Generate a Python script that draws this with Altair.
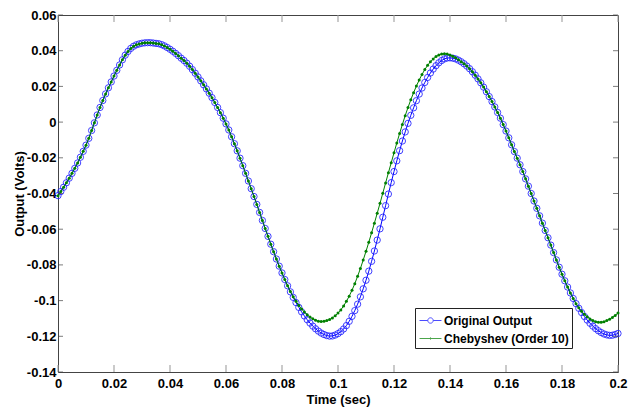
import altair as alt
import pandas as pd

# ---------------- data ----------------
time_s = [round(i * 0.001, 3) for i in range(201)]

original_output = [
    -0.0412, -0.0389, -0.0365, -0.0340, -0.0314, -0.0287, -0.0259, -0.0229, -0.0197, -0.0164,
    -0.0129, -0.0091, -0.0047, -0.0004, 0.0040, 0.0082, 0.0121, 0.0158, 0.0192, 0.0225,
    0.0258, 0.0290, 0.0320, 0.0349, 0.0375, 0.0396, 0.0413, 0.0425, 0.0433, 0.0438,
    0.0442, 0.0444, 0.0445, 0.0445, 0.0443, 0.0441, 0.0439, 0.0434, 0.0427, 0.0418,
    0.0408, 0.0397, 0.0385, 0.0372, 0.0358, 0.0345, 0.0330, 0.0313, 0.0294, 0.0274,
    0.0253, 0.0231, 0.0209, 0.0186, 0.0162, 0.0137, 0.0110, 0.0082, 0.0053, 0.0022,
    -0.0010, -0.0044, -0.0082, -0.0121, -0.0161, -0.0202, -0.0244, -0.0287, -0.0330, -0.0373,
    -0.0417, -0.0461, -0.0506, -0.0551, -0.0596, -0.0640, -0.0684, -0.0726, -0.0767, -0.0807,
    -0.0845, -0.0882, -0.0917, -0.0951, -0.0982, -0.1011, -0.1038, -0.1063, -0.1086, -0.1107,
    -0.1126, -0.1143, -0.1158, -0.1171, -0.1182, -0.1190, -0.1196, -0.1199, -0.1198, -0.1193,
    -0.1185, -0.1174, -0.1159, -0.1140, -0.1116, -0.1088, -0.1056, -0.1020, -0.0979, -0.0934,
    -0.0886, -0.0835, -0.0780, -0.0722, -0.0661, -0.0598, -0.0533, -0.0468, -0.0403, -0.0339,
    -0.0277, -0.0217, -0.0160, -0.0106, -0.0055, -0.0007, 0.0038, 0.0080, 0.0120, 0.0157,
    0.0191, 0.0222, 0.0250, 0.0275, 0.0297, 0.0316, 0.0332, 0.0345, 0.0354, 0.0359,
    0.0360, 0.0358, 0.0354, 0.0347, 0.0338, 0.0327, 0.0314, 0.0299, 0.0282, 0.0263,
    0.0242, 0.0220, 0.0196, 0.0170, 0.0143, 0.0115, 0.0085, 0.0054, 0.0022, -0.0014,
    -0.0050, -0.0088, -0.0127, -0.0165, -0.0202, -0.0239, -0.0277, -0.0318, -0.0359, -0.0400,
    -0.0442, -0.0483, -0.0525, -0.0566, -0.0607, -0.0648, -0.0689, -0.0731, -0.0772, -0.0813,
    -0.0852, -0.0889, -0.0924, -0.0957, -0.0988, -0.1017, -0.1043, -0.1067, -0.1089, -0.1109,
    -0.1127, -0.1143, -0.1157, -0.1169, -0.1179, -0.1187, -0.1192, -0.1195, -0.1194, -0.1190,
    -0.1184,
]

chebyshev_order10 = [
    -0.0412, -0.0389, -0.0365, -0.0340, -0.0314, -0.0287, -0.0259, -0.0229, -0.0197, -0.0164,
    -0.0129, -0.0091, -0.0047, -0.0004, 0.0040, 0.0082, 0.0121, 0.0158, 0.0192, 0.0225,
    0.0258, 0.0290, 0.0320, 0.0349, 0.0375, 0.0396, 0.0413, 0.0425, 0.0433, 0.0438,
    0.0442, 0.0444, 0.0445, 0.0445, 0.0443, 0.0441, 0.0439, 0.0434, 0.0427, 0.0418,
    0.0408, 0.0397, 0.0385, 0.0372, 0.0358, 0.0345, 0.0330, 0.0313, 0.0294, 0.0274,
    0.0253, 0.0231, 0.0209, 0.0186, 0.0162, 0.0137, 0.0110, 0.0082, 0.0053, 0.0022,
    -0.0010, -0.0044, -0.0082, -0.0121, -0.0161, -0.0202, -0.0244, -0.0287, -0.0330, -0.0373,
    -0.0417, -0.0461, -0.0506, -0.0551, -0.0596, -0.0640, -0.0684, -0.0726, -0.0767, -0.0807,
    -0.0845, -0.0882, -0.0917, -0.0949, -0.0978, -0.1004, -0.1027, -0.1047, -0.1064, -0.1079,
    -0.1092, -0.1102, -0.1110, -0.1115, -0.1117, -0.1116, -0.1112, -0.1106, -0.1097, -0.1085,
    -0.1070, -0.1052, -0.1030, -0.1004, -0.0975, -0.0942, -0.0905, -0.0864, -0.0820, -0.0773,
    -0.0724, -0.0673, -0.0620, -0.0566, -0.0511, -0.0455, -0.0398, -0.0341, -0.0284, -0.0228,
    -0.0172, -0.0117, -0.0064, -0.0013, 0.0036, 0.0082, 0.0125, 0.0165, 0.0202, 0.0236,
    0.0267, 0.0294, 0.0318, 0.0338, 0.0354, 0.0367, 0.0376, 0.0381, 0.0383, 0.0381,
    0.0376, 0.0369, 0.0360, 0.0349, 0.0338, 0.0327, 0.0314, 0.0299, 0.0282, 0.0263,
    0.0242, 0.0220, 0.0196, 0.0170, 0.0143, 0.0115, 0.0085, 0.0054, 0.0022, -0.0014,
    -0.0050, -0.0088, -0.0127, -0.0165, -0.0202, -0.0239, -0.0277, -0.0318, -0.0359, -0.0400,
    -0.0442, -0.0483, -0.0525, -0.0566, -0.0607, -0.0648, -0.0689, -0.0731, -0.0772, -0.0813,
    -0.0852, -0.0889, -0.0924, -0.0957, -0.0988, -0.1017, -0.1040, -0.1060, -0.1077, -0.1091,
    -0.1103, -0.1112, -0.1118, -0.1121, -0.1121, -0.1118, -0.1112, -0.1104, -0.1094, -0.1083,
    -0.1070,
]

series_names = ["Original Output", "Chebyshev (Order 10)"]
series_colors = ["#0000ff", "#008000"]
x_tick_values = [0, 0.02, 0.04, 0.06, 0.08, 0.1, 0.12, 0.14, 0.16, 0.18, 0.2]
y_tick_values = [-0.14, -0.12, -0.1, -0.08, -0.06, -0.04, -0.02, 0, 0.02, 0.04, 0.06]

# ---------------- styling ----------------
W, H = 560, 357
FONT = "Liberation Sans Narrow, Arial Narrow, Liberation Sans, Arial, sans-serif"
LABEL_EXPR = "replace(format(datum.value, '~g'), '\u2212', '-')"

orig_df = pd.DataFrame({"t": time_s, "v": original_output})
cheb_df = pd.DataFrame({"t": time_s, "v": chebyshev_order10})
legend_df = pd.DataFrame({"series": series_names})
xt_df = pd.DataFrame({"t": x_tick_values})
yt_df = pd.DataFrame({"v": y_tick_values})

xs = alt.Scale(domain=[0, 0.2], nice=False, zero=False)
ys = alt.Scale(domain=[-0.14, 0.06], nice=False, zero=False)

x_axis = alt.Axis(
    title="Time (sec)", values=x_tick_values, labelExpr=LABEL_EXPR,
    ticks=False, domain=False, grid=False, labelFlush=False, labelOverlap=False,
    labelFont=FONT, labelFontSize=13, labelFontWeight="bold", labelColor="black",
    labelPadding=5, titleFont=FONT, titleFontSize=13, titleFontWeight="bold",
    titleColor="black", titlePadding=3,
)
y_axis = alt.Axis(
    title="Output (Volts)", values=y_tick_values, labelExpr=LABEL_EXPR,
    ticks=False, domain=False, grid=False, labelFlush=False, labelOverlap=False,
    labelFont=FONT, labelFontSize=13, labelFontWeight="bold", labelColor="black",
    labelPadding=2, titleFont=FONT, titleFontSize=13, titleFontWeight="bold",
    titleColor="black", titlePadding=0,
)

X = alt.X("t:Q", scale=xs, axis=x_axis)
Y = alt.Y("v:Q", scale=ys, axis=y_axis)

blue_line = alt.Chart(orig_df).mark_line(color=series_colors[0], strokeWidth=1).encode(x=X, y=Y)
blue_pts = alt.Chart(orig_df).mark_point(
    shape="circle", filled=False, color="#2020ff", strokeWidth=1, size=40, opacity=0.85
).encode(x=X, y=Y)
green_line = alt.Chart(cheb_df).mark_line(color=series_colors[1], strokeWidth=1).encode(x=X, y=Y)
green_pts = alt.Chart(cheb_df).mark_point(
    shape="circle", filled=True, color=series_colors[1], size=9, opacity=1
).encode(x=X, y=Y)

blue_sym = "M-1.22,0L-0.3,0M0.3,0L1.22,0M-0.3,0A0.3,0.3 0 1,1 0.3,0A0.3,0.3 0 1,1 -0.3,0"
green_sym = "M-1.22,0L1.22,0M-0.08,0A0.08,0.08 0 1,1 0.08,0A0.08,0.08 0 1,1 -0.08,0"

legend_layer = alt.Chart(legend_df).mark_point(size=0, filled=False, strokeWidth=1).encode(
    color=alt.Color(
        "series:N",
        scale=alt.Scale(domain=series_names, range=series_colors),
        legend=alt.Legend(
            title=None, orient="none", legendX=357, legendY=293, direction="vertical",
            strokeColor="#222222", fillColor="white", padding=3, cornerRadius=0,
            symbolSize=324, symbolStrokeWidth=1, symbolOffset=3, rowPadding=2,
            labelOffset=4, labelFont=FONT, labelFontSize=12, labelFontWeight="bold",
            labelColor="black", labelLimit=300,
        ),
    ),
    shape=alt.Shape(
        "series:N",
        scale=alt.Scale(domain=series_names, range=[blue_sym, green_sym]),
    ),
)

bottom_ticks = alt.Chart(xt_df).mark_tick(orient="vertical", color="#9a9a9a", thickness=1.5, size=7).encode(
    x=X, y=alt.value(H - 3.5))
top_ticks = alt.Chart(xt_df).mark_tick(orient="vertical", color="#9a9a9a", thickness=1.5, size=7).encode(
    x=X, y=alt.value(3.5))
left_ticks = alt.Chart(yt_df).mark_tick(orient="horizontal", color="#444444", thickness=1, size=5).encode(
    y=Y, x=alt.value(2.5))
right_ticks = alt.Chart(yt_df).mark_tick(orient="horizontal", color="#444444", thickness=1, size=5).encode(
    y=Y, x=alt.value(W - 2.5))

chart = alt.layer(
    blue_line, blue_pts, green_line, green_pts, legend_layer,
    bottom_ticks, top_ticks, left_ticks, right_ticks,
).properties(
    width=W, height=H,
    autosize=alt.AutoSizeParams(type="none"),
    padding={"left": 50, "top": 7, "right": 13, "bottom": 36},
    background="white",
).configure_view(
    stroke="#444444", strokeWidth=1
).configure_axis(labelOverlap=False)

chart.save("out.html", embed_options={"renderer": "svg", "actions": False})
